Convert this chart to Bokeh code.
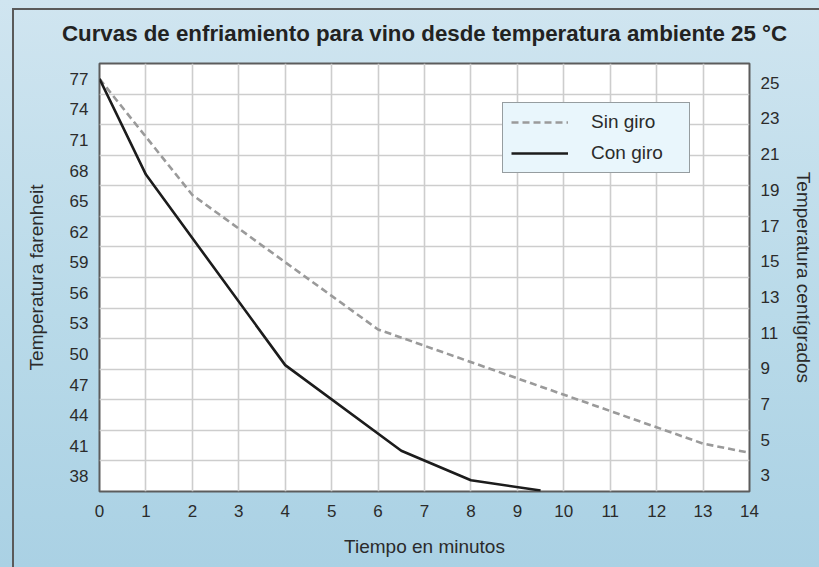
from bokeh.plotting import figure
from bokeh.models import Range1d, LinearAxis, FixedTicker, Legend, LegendItem
from bokeh.embed import file_html
from bokeh.resources import INLINE

# ---- data ----
minutos_sin = [0, 2, 6, 13, 14]
temp_sin_f = [77, 65.6, 52.4, 41.2, 40.3]
minutos_con = [0, 1, 4, 6.5, 8, 9.5]
temp_con_f = [77, 67.6, 48.9, 40.5, 37.6, 36.6]

x_ticks = list(range(0, 15))
f_ticks = [38, 41, 44, 47, 50, 53, 56, 59, 62, 65, 68, 71, 74, 77]
c_ticks = [3, 5, 7, 9, 11, 13, 15, 17, 19, 21, 23, 25]
f_grid = [39.5, 42.5, 45.5, 48.5, 51.5, 54.5, 57.5, 60.5, 63.5, 66.5, 69.5, 72.5, 75.5]

titulo = "Curvas de enfriamiento para vino desde temperatura ambiente 25 °C"
FONT = "Liberation Sans"
TXT = "#2b2b2b"

p = figure(width=819, height=567, output_backend="svg", toolbar_location=None,
           x_range=Range1d(0, 14), y_range=Range1d(36.5, 78.5),
           min_border_left=99, min_border_right=70, min_border_top=62, min_border_bottom=76)
p.extra_y_ranges = {"c": Range1d(2.1, 26.08)}

p.border_fill_color = None
p.background_fill_color = "white"
p.outline_line_color = "#5c5c5c"
p.outline_line_width = 2
p.styles = {
    "background": "linear-gradient(#5a5a5a,#5a5a5a) 12px 8px / 2px 100% no-repeat, "
                  "linear-gradient(#5a5a5a,#5a5a5a) 12px 8px / 100% 2px no-repeat, "
                  "linear-gradient(180deg, #d0e5f0 0%, #b9dae9 55%, #aad1e4 100%)"
}

# title
p.title.text = titulo
p.title.align = "center"
p.title.offset = -3
p.title.text_font = FONT
p.title.text_font_size = "22.3px"
p.title.text_font_style = "bold"
p.title.text_color = "#222222"
p.title.standoff = 36

# x axis
xa = p.xaxis[0]
xa.ticker = FixedTicker(ticks=x_ticks)
xa.axis_label = "Tiempo en minutos"

# left axis
ya = p.yaxis[0]
ya.ticker = FixedTicker(ticks=f_ticks)
ya.axis_label = "Temperatura farenheit"

# right axis
ra = LinearAxis(y_range_name="c", ticker=FixedTicker(ticks=c_ticks),
                axis_label="Temperatura centígrados")
p.add_layout(ra, "right")

for ax in (xa, ya, ra):
    ax.axis_line_color = None
    ax.major_tick_line_color = None
    ax.minor_tick_line_color = None
    ax.major_tick_out = 0
    ax.major_tick_in = 0
    ax.major_label_text_font = FONT
    ax.major_label_text_font_size = "17px"
    ax.major_label_text_color = TXT
    ax.axis_label_text_font = FONT
    ax.axis_label_text_font_size = "19px"
    ax.axis_label_text_font_style = "normal"
    ax.axis_label_text_color = TXT

xa.major_label_standoff = 13
xa.axis_label_standoff = 16
ya.major_label_standoff = 11
ya.axis_label_standoff = 20
ra.major_label_standoff = 11
ra.axis_label_standoff = 11

# grids
p.xgrid.ticker = FixedTicker(ticks=x_ticks)
p.ygrid.ticker = FixedTicker(ticks=f_grid)
for g in (p.xgrid[0], p.ygrid[0]):
    g.grid_line_color = "#cdcdcd"
    g.grid_line_width = 1.6

# lines
r_sin = p.line(minutos_sin, temp_sin_f, line_color="#9a9a9a", line_width=2.6, line_dash="7 4")
r_con = p.line(minutos_con, temp_con_f, line_color="#1c1c1c", line_width=2.6)

legend = Legend(items=[LegendItem(label="Sin giro", renderers=[r_sin]),
                       LegendItem(label="Con giro", renderers=[r_con])],
                location=(403, 318), margin=0, padding=8, spacing=9,
                glyph_width=57, glyph_height=20, label_height=20, label_width=90,
                label_standoff=23,
                label_text_font=FONT, label_text_font_size="19px", label_text_color=TXT,
                background_fill_color="#e9f6fc", background_fill_alpha=1,
                border_line_color="#444444", border_line_width=1)
p.add_layout(legend)

open("out.html", "w").write(file_html(p, INLINE))
